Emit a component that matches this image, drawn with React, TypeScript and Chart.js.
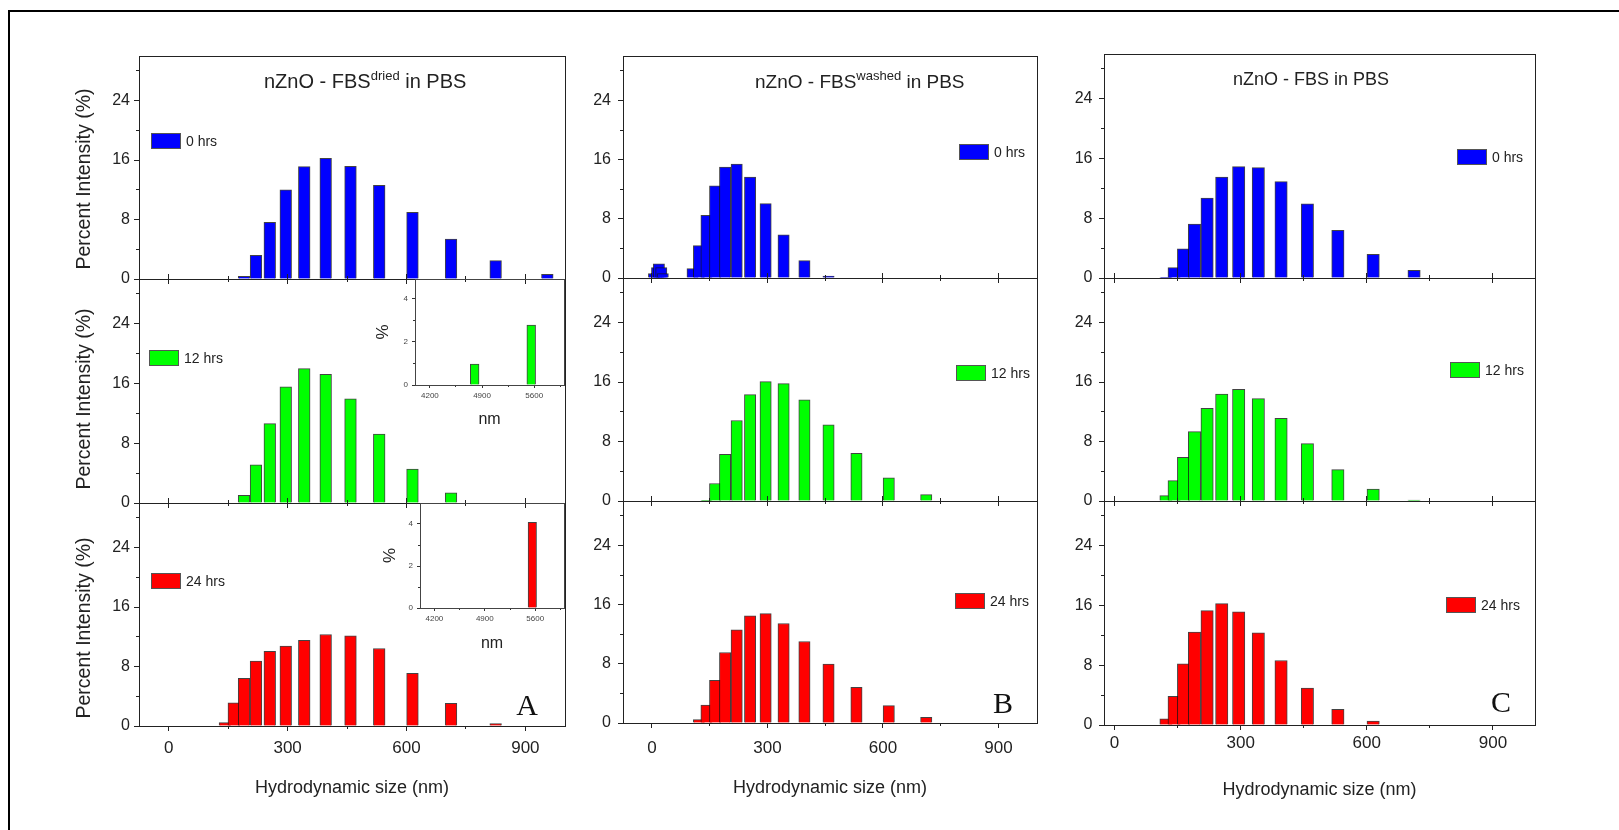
import React, { useEffect, useRef } from "react";
import { Chart, registerables } from "chart.js";

Chart.register(...registerables);

const FONT = "'Liberation Sans', Arial, Helvetica, sans-serif";
const SERIF = "'Liberation Serif', 'Times New Roman', serif";

// ---------------- Data: hydrodynamic size bins (nm) and percent intensity ----------------
const sizeA0 = [190.1, 220.2, 255.0, 295.3, 342.0, 396.1, 458.7, 531.2, 615.1, 712.4, 825.0, 955.4];
const pctA0 = [0.36, 3.19, 7.63, 11.98, 15.12, 16.24, 15.16, 12.61, 8.97, 5.38, 2.47, 0.63];
const sizeA12 = [190.1, 220.2, 255.0, 295.3, 342.0, 396.1, 458.7, 531.2, 615.1, 712.4];
const pctA12 = [1.03, 5.11, 10.63, 15.57, 17.99, 17.23, 13.95, 9.24, 4.53, 1.35];
const sizeA24 = [141.8, 164.2, 190.1, 220.2, 255.0, 295.3, 342.0, 396.1, 458.7, 531.2, 615.1, 712.4, 825.0];
const pctA24 = [0.45, 3.13, 6.4, 8.73, 10.03, 10.75, 11.51, 12.31, 12.14, 10.43, 7.08, 3.05, 0.31];
const sizeA12Inset = [4801, 5560];
const pctA12Inset = [0.97, 2.77];
const sizeA24Inset = [5560];
const pctA24Inset = [4.08];

const sizeB0 = [5.615, 13.54, 18.17, 24.36, 28.21, 105.7, 122.4, 141.8, 164.2, 190.1, 220.2, 255.0, 295.3, 342.0, 396.1, 458.7];
const pctB0 = [0.6, 1.4, 1.9, 1.4, 0.6, 1.26, 4.37, 8.46, 12.47, 14.99, 15.4, 13.64, 10.04, 5.85, 2.34, 0.27];
const sizeB12 = [141.8, 164.2, 190.1, 220.2, 255.0, 295.3, 342.0, 396.1, 458.7, 531.2, 615.1, 712.4];
const pctB12 = [0.09, 2.35, 6.27, 10.83, 14.3, 16.06, 15.79, 13.62, 10.24, 6.41, 3.11, 0.86];
const sizeB24 = [122.4, 141.8, 164.2, 190.1, 220.2, 255.0, 295.3, 342.0, 396.1, 458.7, 531.2, 615.1, 712.4];
const pctB24 = [0.45, 2.43, 5.75, 9.53, 12.58, 14.47, 14.79, 13.44, 11.01, 7.96, 4.81, 2.34, 0.76];

const sizeC0 = [122.4, 141.8, 164.2, 190.1, 220.2, 255.0, 295.3, 342.0, 396.1, 458.7, 531.2, 615.1, 712.4];
const pctC0 = [0.09, 1.39, 3.9, 7.21, 10.7, 13.52, 14.91, 14.78, 12.9, 9.94, 6.4, 3.18, 1.03];
const sizeC12 = [122.4, 141.8, 164.2, 190.1, 220.2, 255.0, 295.3, 342.0, 396.1, 458.7, 531.2, 615.1, 712.4];
const pctC12 = [0.72, 2.74, 5.88, 9.33, 12.47, 14.4, 15.03, 13.77, 11.13, 7.72, 4.22, 1.62, 0.13];
const sizeC24 = [122.4, 141.8, 164.2, 190.1, 220.2, 255.0, 295.3, 342.0, 396.1, 458.7, 531.2, 615.1];
const pctC24 = [0.81, 3.85, 8.19, 12.45, 15.32, 16.26, 15.14, 12.36, 8.64, 4.93, 2.1, 0.54];

// ---------------- Tick values and labels ----------------
const xMajorTicks = [0, 300, 600, 900];
const xMinorTicks = [0, 150, 300, 450, 600, 750, 900];
const yMajorTicks = [0, 8, 16, 24];
const yMinorTicks = [0, 4, 8, 12, 16, 20, 24, 28];
const insetXMajorTicks = [4200, 4900, 5600];
const insetXMinorTicks = [4200, 4550, 4900, 5250, 5600, 5950];
const insetYMajorTicks = [0, 2, 4];
const insetYMinorTicks = [0, 1, 2, 3, 4];

const seriesLabels = ["0 hrs", "12 hrs", "24 hrs"];
const panelTitleSups = ["dried", "washed", ""];
const panelLetters = ["A", "B", "C"];
const xAxisTitle = "Hydrodynamic size (nm)";
const yAxisTitle = "Percent Intensity (%)";

const COLORS = ["#0000FF", "#00FF00", "#FF0000"];

type Spec = {
  L: number; T: number; R: number; B: number;
  xMin: number; xMax: number; xMajor: number[]; xMinor: number[];
  yMax: number; yMajor: number[]; yMinor: number[];
  sizes: number[]; values: number[]; color: string; barData: number;
  yW: number; padTop: number; padRight: number; xH: number;
  showX: boolean; xPad: number; xFont: number; yPad: number; yFont: number;
  tickColor: string; labelColor: string; major: number; minor: number; topTicks: boolean;
  xTitle?: string; xTitleFont?: number; yTitle?: string; yTitleFont?: number; yTitlePad?: number;
};

function canvasBox(s: Spec) {
  const left = s.L - s.yW;
  const top = s.T - s.padTop;
  const width = s.R - left + s.padRight;
  const height = s.B - top + s.xH;
  return { left, top, width, height };
}

function buildConfig(s: Spec): any {
  const fit = (size: number, horiz: boolean) => (sc: any) => {
    if (horiz) sc.height = size; else sc.width = size;
    sc.paddingLeft = 0; sc.paddingRight = 0; sc.paddingTop = 0; sc.paddingBottom = 0;
  };
  const setTicks = (vals: number[]) => (sc: any) => { sc.ticks = vals.map((v) => ({ value: v })); };
  const plain = (v: any) => String(v);
  const grid = (len: number) => ({
    display: true, drawOnChartArea: false, drawTicks: true, tickLength: len,
    tickColor: s.tickColor, tickWidth: 1, offset: false,
  });
  const pxPerUnit = (s.R - s.L) / (s.xMax - s.xMin);
  const xBase = { type: "linear", min: s.xMin, max: s.xMax, offset: false };
  const scales: any = {
    x: {
      ...xBase, position: "bottom", weight: 1,
      afterBuildTicks: setTicks(s.xMajor), afterFit: fit(s.xH, true),
      grid: grid(s.major), border: { display: true, color: s.tickColor, width: 1 },
      ticks: { display: s.showX, padding: s.xPad, font: { family: FONT, size: s.xFont }, color: s.labelColor, maxRotation: 0, minRotation: 0, autoSkip: false, callback: plain },
      title: s.xTitle
        ? { display: true, text: s.xTitle, font: { family: FONT, size: s.xTitleFont }, color: "#222", padding: { top: 0, bottom: 0 } }
        : { display: false },
    },
    xm: {
      ...xBase, position: "bottom", weight: 0,
      afterBuildTicks: setTicks(s.xMinor), afterFit: fit(0, true),
      grid: grid(s.minor), border: { display: false }, ticks: { display: false },
    },
    y: {
      type: "linear", position: "left", weight: 1, min: 0, max: s.yMax,
      afterBuildTicks: setTicks(s.yMajor), afterFit: fit(s.yW, false),
      grid: grid(s.major), border: { display: true, color: s.tickColor, width: 1 },
      ticks: { padding: s.yPad, font: { family: FONT, size: s.yFont }, color: s.labelColor, autoSkip: false, callback: plain },
      title: s.yTitle
        ? { display: true, text: s.yTitle, font: { family: FONT, size: s.yTitleFont }, color: "#222", padding: { top: s.yTitlePad, bottom: 0 } }
        : { display: false },
    },
    ym: {
      type: "linear", position: "left", weight: 0, min: 0, max: s.yMax,
      afterBuildTicks: setTicks(s.yMinor), afterFit: fit(0, false),
      grid: grid(s.minor), border: { display: false }, ticks: { display: false },
    },
  };
  if (s.topTicks) {
    scales.xt = {
      ...xBase, position: "top", weight: 1,
      afterBuildTicks: setTicks(s.xMajor), afterFit: fit(0, true),
      grid: grid(s.major), border: { display: false }, ticks: { display: false },
    };
    scales.xtm = {
      ...xBase, position: "top", weight: 0,
      afterBuildTicks: setTicks(s.xMinor), afterFit: fit(0, true),
      grid: grid(s.minor), border: { display: false }, ticks: { display: false },
    };
  }
  return {
    type: "bar",
    data: {
      datasets: [
        {
          data: s.sizes.map((x, i) => ({ x, y: s.values[i] })),
          backgroundColor: s.color,
          borderColor: "rgba(20,20,20,0.8)",
          borderWidth: 1,
          barThickness: s.barData * pxPerUnit,
          xAxisID: "x",
          yAxisID: "y",
        },
      ],
    },
    options: {
      responsive: false,
      maintainAspectRatio: false,
      devicePixelRatio: 1,
      animation: false,
      events: [],
      layout: { padding: { left: 0, top: s.padTop, right: s.padRight, bottom: 0 } },
      plugins: { legend: { display: false }, tooltip: { enabled: false }, title: { display: false } },
      scales,
    },
  };
}

function ChartCanvas({ spec }: { spec: Spec }) {
  const ref = useRef<HTMLCanvasElement>(null);
  const box = canvasBox(spec);
  useEffect(() => {
    const chart = new Chart(ref.current as HTMLCanvasElement, buildConfig(spec));
    return () => chart.destroy();
  }, []);
  return (
    <canvas
      ref={ref}
      width={box.width}
      height={box.height}
      style={{ position: "absolute", left: box.left, top: box.top, width: box.width, height: box.height, display: "block" }}
    />
  );
}

// ---------------- Layout ----------------
const COLS = [
  { L: 139, R: 565, rows: [56, 279, 503, 726], xMin: -75, yPad: 4, xPad: 7.5, xH: 73 },
  { L: 623, R: 1037, rows: [56, 278, 501, 723], xMin: -75, yPad: 7, xPad: 10, xH: 76 },
  { L: 1104, R: 1535, rows: [54, 278, 501, 725], xMin: -25, yPad: 6.5, xPad: 3, xH: 76 },
];
const SERIES: [number[], number[]][][] = [
  [[sizeA0, pctA0], [sizeA12, pctA12], [sizeA24, pctA24]],
  [[sizeB0, pctB0], [sizeB12, pctB12], [sizeB24, pctB24]],
  [[sizeC0, pctC0], [sizeC12, pctC12], [sizeC24, pctC24]],
];

const mainSpecs: Spec[] = COLS.flatMap((c, ci) =>
  [0, 1, 2].map((ri) => ({
    L: c.L, R: c.R, T: c.rows[ri], B: c.rows[ri + 1],
    xMin: c.xMin, xMax: 1000, xMajor: xMajorTicks, xMinor: xMinorTicks,
    yMax: 30, yMajor: yMajorTicks, yMinor: yMinorTicks,
    sizes: SERIES[ci][ri][0], values: SERIES[ci][ri][1], color: COLORS[ri], barData: 29.4,
    yW: 45, padTop: 8, padRight: 4, xH: ri === 2 ? c.xH : 8,
    showX: ri === 2, xPad: c.xPad, xFont: 17, yPad: c.yPad, yFont: 16,
    tickColor: "#222", labelColor: "#222", major: 5, minor: 3, topTicks: ri > 0,
    xTitle: ri === 2 ? xAxisTitle : undefined, xTitleFont: 18,
  }))
);

const insetBase = {
  xMin: 4000, xMax: 6000, xMajor: insetXMajorTicks, xMinor: insetXMinorTicks,
  yMajor: insetYMajorTicks, yMinor: insetYMinorTicks, barData: 117,
  yW: 50, padTop: 0, padRight: 3, showX: true, xPad: 3, xFont: 8, yPad: 4, yFont: 8,
  tickColor: "#333", labelColor: "#444", major: 3, minor: 2, topTicks: false,
  xTitle: "nm", xTitleFont: 16, yTitle: "%", yTitleFont: 17,
};
const insetSpecs: Spec[] = [
  { ...insetBase, L: 415, T: 279, R: 564, B: 385, yMax: 4.9, sizes: sizeA12Inset, values: pctA12Inset, color: COLORS[1], xH: 44, yTitlePad: 8.1 },
  { ...insetBase, L: 420, T: 503, R: 564, B: 608, yMax: 5.0, sizes: sizeA24Inset, values: pctA24Inset, color: COLORS[2], xH: 45, yTitlePad: 9.8 },
];

const LEGENDS = [
  { col: 0, row: 0, x: 151, y: 133 }, { col: 0, row: 1, x: 149, y: 350 }, { col: 0, row: 2, x: 151, y: 573 },
  { col: 1, row: 0, x: 959, y: 144 }, { col: 1, row: 1, x: 956, y: 365 }, { col: 1, row: 2, x: 955, y: 593 },
  { col: 2, row: 0, x: 1457, y: 149 }, { col: 2, row: 1, x: 1450, y: 362 }, { col: 2, row: 2, x: 1446, y: 597 },
];
const TITLES = [
  { x: 264, baseline: 88, fs: 20, sfs: 13 },
  { x: 755, baseline: 88, fs: 19, sfs: 13 },
  { x: 1233, baseline: 85, fs: 18, sfs: 12 },
];
const YTITLES = [179, 399, 628];
const LETTERS = [
  { x: 527, y: 705 },
  { x: 1003, y: 703.5 },
  { x: 1501, y: 702.5 },
];

function Frame({ L, T, R, B, color }: { L: number; T: number; R: number; B: number; color: string }) {
  return (
    <div
      style={{
        position: "absolute", left: L, top: T, width: R - L + 1, height: B - T + 1,
        border: `1px solid ${color}`, boxSizing: "border-box", pointerEvents: "none",
      }}
    />
  );
}

export default function App() {
  return (
    <div
      style={{
        position: "absolute", left: 0, top: 0, width: 1619, height: 830, overflow: "hidden",
        background: "#fff", fontFamily: FONT, color: "#222",
      }}
    >
      <div style={{ position: "absolute", left: 8, top: 10, width: 1800, height: 1000, borderLeft: "2px solid #000", borderTop: "2px solid #000" }} />
      {mainSpecs.map((s, i) => <ChartCanvas key={"m" + i} spec={s} />)}
      {mainSpecs.map((s, i) => <Frame key={"f" + i} L={s.L} T={s.T} R={s.R} B={s.B} color="#222" />)}
      {insetSpecs.map((s, i) => <ChartCanvas key={"i" + i} spec={s} />)}
      {insetSpecs.map((s, i) => <Frame key={"fi" + i} L={s.L} T={s.T} R={s.R} B={s.B} color="#444" />)}

      {TITLES.map((t, i) => (
        <div
          key={"t" + i}
          style={{ position: "absolute", left: t.x, top: t.baseline - 0.8465 * t.fs, fontSize: t.fs, lineHeight: t.fs + "px", whiteSpace: "pre" }}
        >
          nZnO - FBS{panelTitleSups[i] ? <span style={{ fontSize: t.sfs, position: "relative", top: -8 }}>{panelTitleSups[i]}</span> : null} in PBS
        </div>
      ))}

      {YTITLES.map((cy, i) => (
        <div
          key={"yt" + i}
          style={{
            position: "absolute", left: 84, top: cy, transform: "translate(-50%, -50%) rotate(-90deg)",
            fontSize: 19.5, lineHeight: 1, whiteSpace: "nowrap",
          }}
        >
          {yAxisTitle}
        </div>
      ))}

      {LEGENDS.map((l, i) => (
        <div key={"l" + i} style={{ position: "absolute", left: l.x, top: l.y, height: 16, display: "flex", alignItems: "center" }}>
          <div style={{ width: 30, height: 16, boxSizing: "border-box", background: COLORS[l.row], border: "1px solid #555" }} />
          <div style={{ marginLeft: 5, fontSize: 14, lineHeight: "16px", whiteSpace: "nowrap" }}>{seriesLabels[l.row]}</div>
        </div>
      ))}

      {LETTERS.map((p, i) => (
        <div
          key={"L" + i}
          style={{
            position: "absolute", left: p.x, top: p.y - 15.2, transform: "translateX(-50%)",
            fontFamily: SERIF, fontSize: 30, lineHeight: "30px", color: "#111",
          }}
        >
          {panelLetters[i]}
        </div>
      ))}
    </div>
  );
}
